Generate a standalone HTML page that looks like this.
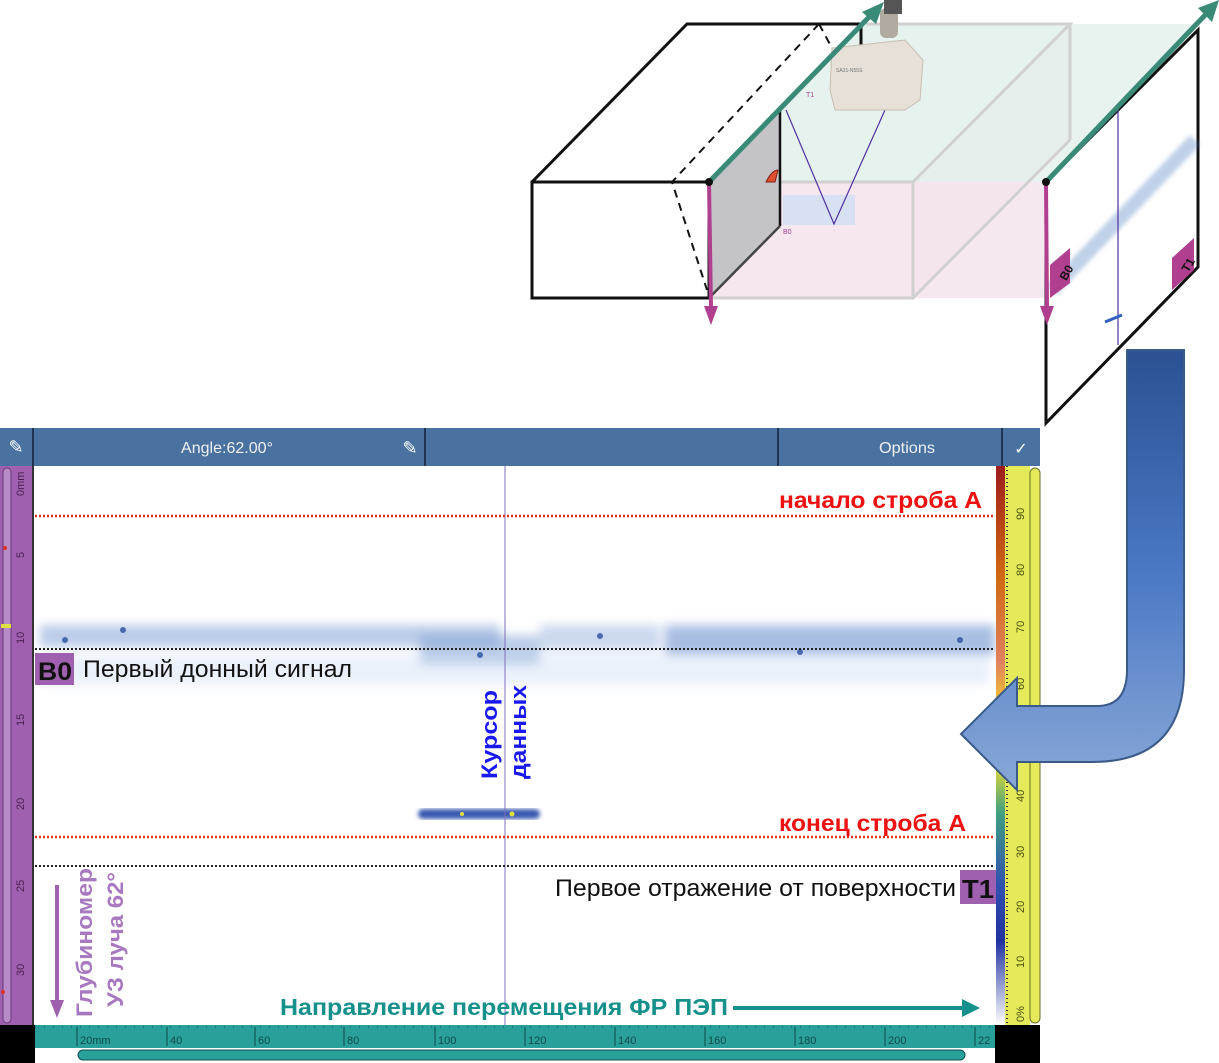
<!DOCTYPE html>
<html><head><meta charset="utf-8"><style>
body{margin:0;background:#fff;width:1219px;height:1063px;overflow:hidden}
svg{display:block}
text{font-family:"Liberation Sans",sans-serif}
</style></head><body>
<svg width="1219" height="1063" viewBox="0 0 1219 1063" xmlns="http://www.w3.org/2000/svg">
<defs>
<linearGradient id="arr" x1="0" y1="0" x2="0" y2="1">
<stop offset="0" stop-color="#2b5192"/><stop offset="0.5" stop-color="#4a78c4"/><stop offset="1" stop-color="#8aa8d8"/>
</linearGradient>
<linearGradient id="cbar" x1="0" y1="0" x2="0" y2="1">
<stop offset="0" stop-color="#9e1b1b"/><stop offset="0.2" stop-color="#d06a10"/><stop offset="0.35" stop-color="#e08060"/><stop offset="0.42" stop-color="#f0c030"/><stop offset="0.55" stop-color="#c8d040"/><stop offset="0.62" stop-color="#40a080"/><stop offset="0.75" stop-color="#3050b0"/><stop offset="0.85" stop-color="#2030a0"/><stop offset="1" stop-color="#ffffff"/>
</linearGradient>
<filter id="bl" x="-20%" y="-50%" width="140%" height="200%"><feGaussianBlur stdDeviation="5"/></filter>
<filter id="bl2"><feGaussianBlur stdDeviation="2"/></filter>
</defs>

<!-- transparent box -->
<polygon points="709,182 866,24 1070,24 913,182" fill="#e6f2ee"/>
<polygon points="709,182 913,182 913,298 709,298" fill="#f6e6f0"/>
<polygon points="913,182 1070,24 1070,140 913,298" fill="#f1eaf0"/>
<polygon points="913,182 1046,182 1046,298 913,298" fill="#f4e2ee" opacity="0.8"/>
<polygon points="1070,24 1200,24 1046,182 913,182" fill="#e2efea" opacity="0.8"/>
<g stroke="#d0d0d0" stroke-width="3" fill="none">
<polyline points="709,182 913,182 913,298 709,298"/>
<polyline points="913,182 1070,24 866,24"/>
<line x1="913" y1="298" x2="1070" y2="140"/>
<line x1="1070" y1="24" x2="1070" y2="140"/>
</g>
<!-- black box -->
<g stroke="#111" stroke-width="3" fill="none">
<rect x="532" y="182" width="177" height="116" fill="#fff"/>
<polyline points="532,182 687,24 861,24 861,48"/>
</g>
<polygon points="709,182 780,110 780,226 709,298" fill="#c4c4c8"/>
<line x1="780" y1="110" x2="780" y2="226" stroke="#111" stroke-width="2.5"/>
<line x1="780" y1="226" x2="709" y2="298" stroke="#444" stroke-width="2.5"/>
<polyline points="819,24 672,182 707,290" stroke="#111" stroke-width="2" stroke-dasharray="8,6" fill="none"/>
<line x1="819" y1="24" x2="832" y2="48" stroke="#111" stroke-width="2" stroke-dasharray="8,6"/>
<path d="M766,182 q6,-12 12,-12 l-3,12z" fill="#e05030" stroke="#802010"/>
<!-- scan -->
<rect x="783" y="195" width="72" height="30" fill="#cfe0f4" opacity="0.8"/>
<polyline points="786,110 834,224 885,110" stroke="#5030a0" stroke-width="1.2" fill="none"/>
<text x="806" y="97" font-size="7" fill="#a04090">T1</text>
<text x="783" y="234" font-size="7" fill="#a04090">B0</text>
<!-- probe -->
<polygon points="832,48 905,40 923,60 920,100 905,110 835,110 830,90" fill="#e6e0d8" stroke="#c8beb0"/>
<rect x="880" y="8" width="18" height="30" rx="6" fill="#b0aaa0"/>
<rect x="884" y="0" width="18" height="14" fill="#555"/>
<text x="836" y="72" font-size="5" fill="#777">SA31-N55S</text>
<!-- right panel -->
<polygon points="1046,182 1198,30 1198,267 1046,423" fill="#fff" stroke="#111" stroke-width="3"/>
<path d="M1052,290 L1195,140" stroke="#4a7cc0" stroke-width="14" opacity="0.35" filter="url(#bl2)"/>
<line x1="1118" y1="110" x2="1118" y2="345" stroke="#5030a0" stroke-width="1.2"/>
<line x1="1105" y1="322" x2="1122" y2="315" stroke="#3060c0" stroke-width="3"/>
<polygon points="1050,265 1070,248 1070,283 1050,298" fill="#b0408f"/>
<text x="1055" y="282" font-size="12" font-weight="bold" fill="#111" transform="rotate(-60 1060 272)">B0</text>
<polygon points="1172,258 1194,238 1194,270 1172,290" fill="#b0408f"/>
<text x="1176" y="272" font-size="12" font-weight="bold" fill="#111" transform="rotate(-60 1183 262)">T1</text>
<!-- green arrows -->
<g stroke="#3a8a78" stroke-width="5">
<line x1="709" y1="182" x2="872" y2="14"/>
<line x1="1046" y1="182" x2="1208" y2="12"/>
</g>
<polygon points="884,2 862,12 876,24" fill="#3a8a78"/>
<polygon points="1219,0 1198,8 1212,22" fill="#3a8a78"/>
<g stroke="#b0408f" stroke-width="4">
<line x1="709" y1="182" x2="711" y2="308"/>
<line x1="1046" y1="182" x2="1047" y2="308"/>
</g>
<polygon points="704,306 718,306 711,325" fill="#b0408f"/>
<polygon points="1040,306 1054,306 1047,325" fill="#b0408f"/>
<circle cx="709" cy="182" r="4" fill="#111"/><circle cx="1046" cy="182" r="4" fill="#111"/>

<!-- header -->
<rect x="0" y="428" width="1040" height="38" fill="#4a72a0"/>
<g stroke="#1f3450" stroke-width="2"><line x1="33" y1="428" x2="33" y2="466"/><line x1="425" y1="428" x2="425" y2="466"/><line x1="778" y1="428" x2="778" y2="466"/><line x1="1002" y1="428" x2="1002" y2="466"/></g>
<text x="181" y="453" font-size="16" fill="#f0f0f0" textLength="92" lengthAdjust="spacingAndGlyphs">Angle:62.00°</text>
<text x="879" y="453" font-size="16" fill="#f0f0f0" textLength="56" lengthAdjust="spacingAndGlyphs">Options</text>
<text x="16" y="453" font-size="18" fill="#fff" text-anchor="middle">✎</text>
<text x="410" y="454" font-size="18" fill="#fff" text-anchor="middle">✎</text>
<text x="1021" y="454" font-size="16" fill="#fff" text-anchor="middle">✓</text>

<!-- plot -->
<rect x="33" y="466" width="963" height="559" fill="#fff"/>
<g filter="url(#bl)" opacity="0.8">
<rect x="40" y="625" width="460" height="22" fill="#6f95d0" opacity="0.6"/>
<rect x="420" y="635" width="120" height="30" fill="#5a85c8" opacity="0.5"/>
<rect x="540" y="625" width="120" height="25" fill="#7f9fd6" opacity="0.5"/>
<rect x="665" y="625" width="330" height="30" fill="#4c78c4" opacity="0.6"/>
<rect x="40" y="655" width="950" height="30" fill="#b8cdee" opacity="0.35"/>
</g>
<g fill="#2a4fa0" opacity="0.8"><circle cx="123" cy="630" r="3"/><circle cx="65" cy="640" r="3"/><circle cx="480" cy="655" r="3"/><circle cx="600" cy="636" r="3"/><circle cx="800" cy="652" r="3"/><circle cx="960" cy="640" r="3"/></g>
<rect x="418" y="809" width="122" height="10" rx="5" fill="#3a5ab0" filter="url(#bl2)"/>
<circle cx="462" cy="814" r="2" fill="#e0e040"/><circle cx="512" cy="814" r="2.5" fill="#e0e040"/>
<line x1="505" y1="466" x2="505" y2="1025" stroke="#8070c0" stroke-width="1"/>
<g stroke-width="2.5" stroke-dasharray="2,2">
<line x1="35" y1="516" x2="995" y2="516" stroke="#e03020"/>
<line x1="35" y1="837" x2="995" y2="837" stroke="#e03020"/>
</g>
<g stroke-width="2" stroke-dasharray="2,2" stroke="#222">
<line x1="35" y1="649" x2="995" y2="649"/>
<line x1="35" y1="866" x2="995" y2="866"/>
</g>
<text x="779" y="508" font-size="23" font-weight="bold" fill="#ee1111" textLength="203" lengthAdjust="spacingAndGlyphs">начало строба А</text>
<text x="779" y="831" font-size="23" font-weight="bold" fill="#ee1111" textLength="187" lengthAdjust="spacingAndGlyphs">конец строба А</text>
<rect x="35" y="653" width="39" height="32" fill="#a060b0"/>
<text x="38" y="680" font-size="25" font-weight="bold" fill="#111" textLength="34" lengthAdjust="spacingAndGlyphs">B0</text>
<text x="83" y="677" font-size="24" fill="#111" textLength="269" lengthAdjust="spacingAndGlyphs">Первый донный сигнал</text>
<rect x="960" y="870" width="36" height="34" fill="#a060b0"/>
<text x="962" y="898" font-size="26" font-weight="bold" fill="#111" textLength="32" lengthAdjust="spacingAndGlyphs">T1</text>
<text x="555" y="896" font-size="24" fill="#111" textLength="401" lengthAdjust="spacingAndGlyphs">Первое отражение от поверхности</text>
<text font-size="22" font-weight="bold" fill="#1a1aee" transform="translate(497,779) rotate(-90)" textLength="89" lengthAdjust="spacingAndGlyphs">Курсор</text>
<text font-size="22" font-weight="bold" fill="#1a1aee" transform="translate(526,779) rotate(-90)" textLength="94" lengthAdjust="spacingAndGlyphs">данных</text>
<text font-size="22" font-weight="bold" fill="#a878c0" transform="translate(92,1017) rotate(-90)" textLength="149" lengthAdjust="spacingAndGlyphs">Глубиномер</text>
<text font-size="22" font-weight="bold" fill="#a878c0" transform="translate(123,1007) rotate(-90)" textLength="135" lengthAdjust="spacingAndGlyphs">УЗ луча 62°</text>
<line x1="57" y1="885" x2="57" y2="1005" stroke="#a060b0" stroke-width="4"/>
<polygon points="50,1000 64,1000 57,1018" fill="#a060b0"/>
<text x="280" y="1015" font-size="23" font-weight="bold" fill="#15908a" textLength="448" lengthAdjust="spacingAndGlyphs">Направление перемещения ФР ПЭП</text>
<line x1="733" y1="1008" x2="965" y2="1008" stroke="#15908a" stroke-width="4"/>
<polygon points="962,999 980,1008 962,1017" fill="#15908a"/>

<!-- left ruler -->
<rect x="0" y="466" width="33" height="559" fill="#a060b0"/>
<rect x="3" y="468" width="8" height="555" rx="4" fill="#b88ac8" stroke="#6a3a7a"/>
<line x1="33" y1="466" x2="33" y2="1025" stroke="#333" stroke-width="2"/>
<g font-size="11" fill="#4a2050">
<text transform="translate(24,496) rotate(-90)">0mm</text>
<text transform="translate(24,558) rotate(-90)">5</text>
<text transform="translate(24,644) rotate(-90)">10</text>
<text transform="translate(24,726) rotate(-90)">15</text>
<text transform="translate(24,810) rotate(-90)">20</text>
<text transform="translate(24,892) rotate(-90)">25</text>
<text transform="translate(24,976) rotate(-90)">30</text>
</g>
<rect x="1" y="624" width="10" height="4" fill="#e0e040"/>
<circle cx="5" cy="548" r="2" fill="#e03020"/><circle cx="3" cy="992" r="2" fill="#e03020"/>

<!-- color bar & right ruler -->
<rect x="996" y="466" width="9" height="559" fill="url(#cbar)"/>
<rect x="1005" y="466" width="25" height="559" fill="#e4ea5a"/>
<rect x="1030" y="468" width="10" height="555" rx="5" fill="#e4ea5a" stroke="#6a7020"/>
<line x1="1007" y1="466" x2="1007" y2="1025" stroke="#333" stroke-width="2" stroke-dasharray="1,3"/>
<g font-size="11" fill="#4a5010">
<text transform="translate(1024,520) rotate(-90)">90</text>
<text transform="translate(1024,576) rotate(-90)">80</text>
<text transform="translate(1024,633) rotate(-90)">70</text>
<text transform="translate(1024,690) rotate(-90)">60</text>
<text transform="translate(1024,802) rotate(-90)">40</text>
<text transform="translate(1024,858) rotate(-90)">30</text>
<text transform="translate(1024,913) rotate(-90)">20</text>
<text transform="translate(1024,968) rotate(-90)">10</text>
<text transform="translate(1024,1022) rotate(-90)">0%</text>
</g>

<!-- bottom ruler -->
<rect x="0" y="1025" width="35" height="38" fill="#000"/>
<rect x="995" y="1025" width="45" height="38" fill="#000"/>
<rect x="35" y="1025" width="960" height="23" fill="#2aa09a"/>
<line x1="35" y1="1027" x2="995" y2="1027" stroke="#0f5050" stroke-width="1" stroke-dasharray="1,8"/>
<g font-size="11" fill="#0f4a48">
<text x="80" y="1044">20mm</text><text x="170" y="1044">40</text><text x="258" y="1044">60</text><text x="347" y="1044">80</text><text x="438" y="1044">100</text><text x="528" y="1044">120</text><text x="618" y="1044">140</text><text x="708" y="1044">160</text><text x="798" y="1044">180</text><text x="888" y="1044">200</text><text x="978" y="1044">22</text>
</g>
<g stroke="#0f4a48" stroke-width="1"><line x1="77" y1="1027" x2="77" y2="1046"/><line x1="167" y1="1027" x2="167" y2="1046"/><line x1="255" y1="1027" x2="255" y2="1046"/><line x1="344" y1="1027" x2="344" y2="1046"/><line x1="435" y1="1027" x2="435" y2="1046"/><line x1="525" y1="1027" x2="525" y2="1046"/><line x1="615" y1="1027" x2="615" y2="1046"/><line x1="705" y1="1027" x2="705" y2="1046"/><line x1="795" y1="1027" x2="795" y2="1046"/><line x1="885" y1="1027" x2="885" y2="1046"/><line x1="975" y1="1027" x2="975" y2="1046"/></g>
<rect x="78" y="1050" width="887" height="10" rx="5" fill="#2aa09a" stroke="#0f5050"/>

<!-- big curved arrow -->
<path d="M1127,350 L1184,350 L1184,670 Q1184,762 1092,762 L1017,762 L1017,790 L961,734 L1017,678 L1017,706 L1097,706 Q1127,706 1127,670 Z" fill="url(#arr)" stroke="#3a5a8a" stroke-width="2"/>
</svg>
</body></html>
